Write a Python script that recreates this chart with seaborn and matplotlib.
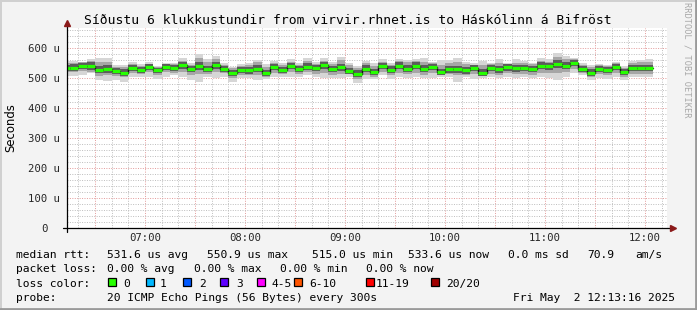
import numpy as np
import matplotlib
matplotlib.use("Agg")
import matplotlib.pyplot as plt
import seaborn as sns
from matplotlib.lines import Line2D
from matplotlib.patches import Rectangle
from matplotlib.transforms import ScaledTranslation

# ---------------- data (microseconds) ----------------
# 5-minute bins starting 06:10 (minutes after midnight)
bin_minutes = np.arange(370, 725, 5)

median_rtt = [534, 534, 540, 540, 528, 530, 524, 518, 533, 527, 537, 526, 538, 532, 542, 530,
              539, 529, 542, 529, 517, 526, 526, 531, 516, 536, 527, 539, 530, 538, 532, 542,
              530, 536, 524, 515, 530, 519, 539, 528, 541, 531, 541, 531, 538, 520, 529, 529,
              526, 533, 518, 532, 529, 536, 532, 532, 530, 541, 539, 546, 540, 551, 529, 518,
              530, 527, 537, 519, 532, 532, 533]
ping_max = [558, 558, 554, 562, 566, 566, 543, 543, 552, 547, 553, 540, 551, 551, 566, 551,
            580, 562, 573, 551, 538, 547, 551, 560, 547, 558, 551, 564, 549, 567, 554, 566,
            554, 571, 549, 540, 558, 551, 562, 551, 564, 560, 562, 566, 553, 560, 560, 566,
            554, 549, 558, 551, 562, 549, 562, 556, 551, 566, 562, 582, 573, 566, 549, 543,
            547, 543, 554, 540, 558, 560, 562]
ping_min = [508, 508, 510, 518, 493, 491, 493, 486, 504, 504, 504, 496, 504, 510, 504, 493,
            488, 504, 499, 504, 488, 499, 499, 493, 496, 504, 504, 504, 504, 510, 504, 499,
            499, 499, 504, 484, 496, 496, 510, 496, 504, 499, 504, 499, 499, 504, 504, 488,
            504, 496, 499, 504, 499, 504, 499, 504, 499, 504, 499, 493, 504, 516, 510, 493,
            499, 496, 504, 493, 504, 504, 504]
ping_p10 = [520, 519, 524, 520, 508, 510, 508, 503, 516, 514, 519, 510, 519, 518, 521, 509,
            514, 515, 519, 516, 500, 511, 510, 510, 505, 518, 513, 519, 514, 520, 515, 516,
            511, 515, 512, 496, 510, 505, 520, 509, 518, 512, 518, 511, 516, 511, 513, 509,
            511, 512, 506, 513, 511, 516, 512, 514, 511, 518, 518, 516, 519, 530, 516, 503,
            512, 510, 516, 503, 514, 513, 514]
ping_q25 = [525, 524, 530, 528, 517, 518, 513, 508, 523, 517, 526, 516, 527, 523, 531, 519,
            527, 519, 530, 519, 507, 516, 515, 520, 507, 526, 517, 529, 520, 528, 522, 531,
            520, 525, 514, 504, 519, 509, 529, 517, 530, 520, 530, 520, 527, 511, 518, 518,
            515, 522, 508, 522, 518, 525, 521, 522, 519, 530, 528, 534, 529, 540, 519, 508,
            520, 517, 527, 509, 522, 522, 523]
ping_q75 = [545, 546, 550, 552, 540, 543, 534, 530, 543, 538, 547, 535, 547, 543, 554, 541,
            553, 541, 555, 539, 528, 536, 538, 543, 528, 546, 538, 550, 540, 550, 543, 553,
            541, 548, 535, 527, 542, 531, 549, 539, 552, 543, 552, 543, 548, 531, 540, 541,
            537, 544, 530, 543, 540, 546, 543, 542, 541, 552, 550, 559, 552, 560, 539, 529,
            541, 538, 547, 530, 543, 543, 544]
ping_p90 = [550, 551, 553, 558, 552, 554, 538, 536, 546, 541, 548, 536, 547, 546, 558, 545,
            568, 552, 563, 545, 533, 541, 544, 552, 538, 551, 544, 555, 543, 558, 547, 558,
            547, 561, 542, 533, 550, 541, 555, 545, 557, 553, 556, 555, 549, 545, 550, 555,
            546, 545, 545, 546, 550, 546, 551, 549, 546, 558, 555, 570, 563, 562, 544, 536,
            543, 539, 549, 535, 550, 552, 554]

y_ticks = [0, 100, 200, 300, 400, 500, 600]
y_tick_labels = ["0", "100 u", "200 u", "300 u", "400 u", "500 u", "600 u"]
x_ticks = [420, 480, 540, 600, 660, 720]
x_tick_labels = ["07:00", "08:00", "09:00", "10:00", "11:00", "12:00"]

loss_labels = ["0", "1", "2", "3", "4-5", "6-10", "11-19", "20/20"]
loss_colors = ["#26ff00", "#00b8ff", "#0059ff", "#5e00ff", "#ff00ff", "#ff5500", "#ff0000", "#a00000"]

title = "Síðustu 6 klukkustundir from virvir.rhnet.is to Háskólinn á Bifröst"

# ---------------- figure ----------------
W, H = 697, 310
BG = "#f3f3f3"
MONO = "DejaVu Sans Mono"
sns.set_style("white")
plt.rcParams["font.family"] = ["DejaVu Sans Mono", "DejaVu Sans"]

fig = plt.figure(figsize=(W / 100, H / 100), dpi=100, facecolor=BG)
ax = fig.add_axes([67 / W, (H - 228) / H, 600 / W, 200 / H])
ax.set_facecolor("white")

x_edges = np.append(bin_minutes, bin_minutes[-1] + 5)


def ext(a):
    a = np.asarray(a, dtype=float)
    return np.append(a, a[-1])


ax.fill_between(x_edges, ext(ping_min), ext(ping_max), step="post", color="#d6d6d6", lw=0, zorder=2)
ax.fill_between(x_edges, ext(ping_p10), ext(ping_p90), step="post", color="#a6a6a6", lw=0, zorder=3)
ax.fill_between(x_edges, ext(ping_q25), ext(ping_q75), step="post", color="#5c5c5c", lw=0, zorder=4)

sns.lineplot(x=x_edges, y=ext(median_rtt), drawstyle="steps-post", estimator=None,
             color="#111111", lw=1.0, ax=ax, zorder=5)
ax.hlines(median_rtt, bin_minutes, bin_minutes + 5, colors="#26ff00", lw=2.3, zorder=6)

# limits
ax.set_xlim(373.27, 733.27)
ax.set_ylim(0, 666.67)

# grid
for xm in np.arange(380, 734, 10):
    if xm % 30 != 0:
        ax.axvline(xm, color="#bdbdbd", lw=0.7, ls=(0, (1, 1.5)), zorder=1)
for xm in np.arange(390, 734, 30):
    ax.axvline(xm, color="#e39a9a", lw=0.7, ls=(0, (1, 1.5)), zorder=1)
for ym in np.arange(20, 667, 20):
    if ym % 100 != 0:
        ax.axhline(ym, color="#bdbdbd", lw=0.7, ls=(0, (1, 1.5)), zorder=1)
for ym in np.arange(100, 667, 100):
    ax.axhline(ym, color="#e39a9a", lw=0.7, ls=(0, (1, 1.5)), zorder=1)

# ticks
ax.set_yticks(y_ticks)
ax.set_yticklabels(y_tick_labels, family=MONO, fontsize=7.7)
ax.set_xticks(x_ticks)
ax.set_xticklabels(x_tick_labels, family=MONO, fontsize=7.7)
ax.tick_params(axis="y", direction="out", length=2, pad=3, width=0.8, color="black")
ax.tick_params(axis="x", direction="out", length=2, pad=1.8, width=0.8, color="black")
for lab in ax.get_yticklabels():
    if lab.get_text() == "0":
        lab.set_transform(lab.get_transform() + ScaledTranslation(-12 / 100, 0, fig.dpi_scale_trans))

for s in ax.spines.values():
    s.set_visible(False)

# axis lines with arrows
ax.plot([-4 / 600, 1 + 4 / 600], [0, 0], transform=ax.transAxes, color="black", lw=0.9, clip_on=False, zorder=7)
ax.plot([0, 0], [-4 / 200, 1 + 3 / 200], transform=ax.transAxes, color="black", lw=0.9, clip_on=False, zorder=7)
ax.plot([1 + 6 / 600], [0], transform=ax.transAxes, marker=">", ms=4, color="#8b1a1a", clip_on=False, zorder=8)
ax.plot([0], [1 + 5 / 200], transform=ax.transAxes, marker="^", ms=4, color="#8b1a1a", clip_on=False, zorder=8)

ax.set_ylabel("")
ax.set_xlabel("")

# ---------------- texts ----------------
def fy(y):
    return 1 - y / H


fig.text(347.5 / W, fy(24), title, ha="center", va="baseline", family=MONO, fontsize=9.4, color="black")
fig.text(11 / W, fy(128), "Seconds", rotation=90, ha="center", va="center",
         family="DejaVu Sans", fontsize=8.4, color="black")
fig.text(687 / W, fy(60), "RRDTOOL / TOBI OETIKER", rotation=270, ha="center", va="center",
         family=MONO, fontsize=6.2, color="#a8a8a8")

FS = 8.15
rows = [
    (258.0, [("median rtt:", 16), ("531.6 us avg", 107), ("550.9 us max", 207), ("515.0 us min", 312),
             ("533.6 us now", 408), ("0.0 ms sd", 508), ("70.9", 587), ("am/s", 635)]),
    (272.3, [("packet loss:", 16), ("0.00 % avg", 107), ("0.00 % max", 194), ("0.00 % min", 280),
             ("0.00 % now", 366)]),
    (286.6, [("loss color:", 16)]),
    (300.9, [("probe:", 16), ("20 ICMP Echo Pings (56 Bytes) every 300s", 107),
             ("Fri May  2 12:13:16 2025", 513)]),
]
for yb, items in rows:
    for txt, xp in items:
        fig.text(xp / W, fy(yb), txt, ha="left", va="baseline", family=MONO, fontsize=FS, color="black")

sq_x = [108, 146, 183, 220, 257, 294, 366, 431]
lab_x = [123, 160, 199, 236, 272, 309, 376, 446]
for c, l, sx, lx in zip(loss_colors, loss_labels, sq_x, lab_x):
    fig.add_artist(Rectangle((sx / W, fy(285.5)), 8 / W, 8 / H, transform=fig.transFigure,
                             facecolor=c, edgecolor="black", lw=0.9))
    fig.text(lx / W, fy(286.6), l, ha="left", va="baseline", family=MONO, fontsize=FS, color="black")

# 3D frame
fig.add_artist(Line2D([0, 1], [1 - 0.5 / H, 1 - 0.5 / H], transform=fig.transFigure, color="#d0d0d0", lw=1.4))
fig.add_artist(Line2D([0.5 / W, 0.5 / W], [0, 1], transform=fig.transFigure, color="#d0d0d0", lw=1.4))
fig.add_artist(Line2D([0, 1], [1.2 / H, 1.2 / H], transform=fig.transFigure, color="#9a9a9a", lw=2))
fig.add_artist(Line2D([1 - 1.2 / W, 1 - 1.2 / W], [0, 1], transform=fig.transFigure, color="#9a9a9a", lw=2))

fig.savefig("out.png", dpi=100, facecolor=BG)
